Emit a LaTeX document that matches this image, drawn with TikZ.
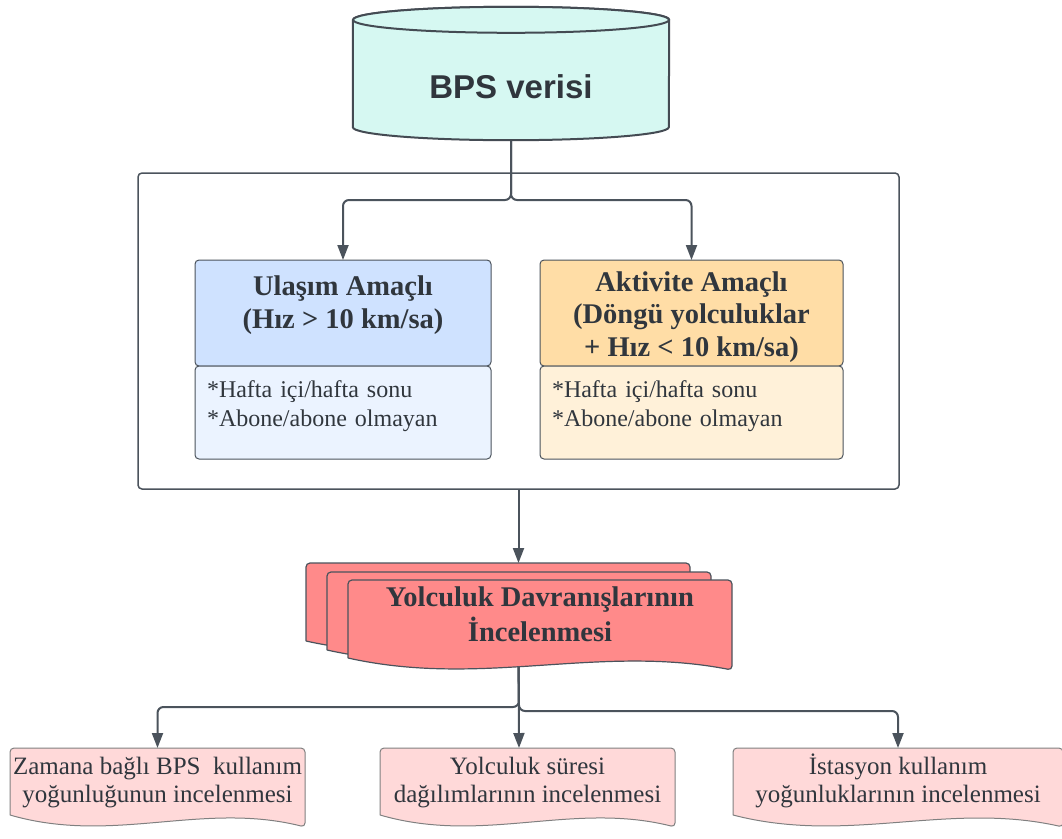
\documentclass[tikz,border=0pt]{standalone}
\usepackage{fontspec}
\setmainfont{Liberation Serif}
\setsansfont{Liberation Sans}
\usetikzlibrary{positioning,arrows.meta,calc}

\definecolor{wire}{HTML}{4B535C}
\definecolor{ink}{HTML}{30363D}
\definecolor{mint}{HTML}{D6F8F2}
\definecolor{bluetop}{HTML}{CFE2FF}
\definecolor{bluebot}{HTML}{EBF3FF}
\definecolor{orangetop}{HTML}{FFDDA6}
\definecolor{orangebot}{HTML}{FFF1D9}
\definecolor{salmon}{HTML}{FF8A8A}
\definecolor{pinklight}{HTML}{FFD9D9}

\pgfdeclarelayer{wires}
\pgfdeclarelayer{shapes}
\pgfsetlayers{wires,shapes,main}

% page outline with a wavy lower edge
\newcommand\docshape[2]{%
  \draw[#2] (#1.south west) -- (#1.north west) -- (#1.north east)
    -- ([yshift=-12pt]#1.south east)
    .. controls ($(#1.south east)!0.35!(#1.south west)+(0,14)$)
    and ($(#1.south west)!0.35!(#1.south east)+(0,-30)$) .. (#1.south west);}

\begin{document}
\begin{tikzpicture}[x=1pt,y=1pt,
  link/.style={draw=wire,line width=2pt,rounded corners=6pt,-{Triangle[length=15pt,width=11pt]}},
  dbshape/.style={draw=wire!90!black,line width=2pt,fill=mint},
  titlebox/.style={draw=wire,line width=1pt,rounded corners=4pt,inner sep=0pt,outer sep=0pt,
    align=center,text=ink,font=\fontsize{28.5}{32.5}\selectfont\bfseries},
  detailbox/.style={draw=wire,line width=1pt,rounded corners=4pt,inner xsep=12pt,inner ysep=0pt,
    outer sep=0pt,align=left,text=ink,text height=31pt,text depth=62pt,
    font=\fontsize{24}{29}\selectfont},
  page/.style={inner sep=0pt,outer sep=0pt,minimum width=384pt,minimum height=78pt},
  pageline/.style={draw=wire,line width=1.2pt,fill=salmon,rounded corners=4pt},
  taskbox/.style={inner sep=0pt,outer sep=0pt,align=center,text=ink,
    text height=54pt,text depth=13pt,font=\fontsize{25}{28}\selectfont},
  taskline/.style={draw=gray,line width=1pt,fill=pinklight,rounded corners=4pt}]

\useasboundingbox (0,0) rectangle (1062,-838);

% data source
\node[inner sep=0pt,minimum width=316pt,minimum height=107pt,text=ink,
  font=\sffamily\bfseries\fontsize{33}{38}\selectfont] (data) at (511,-86.5) {BPS verisi};

% grouping frame and the two trip classes
\node[draw=wire,line width=1.5pt,rounded corners=4pt,inner sep=0pt,
  minimum width=761pt,minimum height=316pt] (frame) at (518.5,-331) {};
\node[titlebox,fill=bluetop,minimum width=296pt,text height=68pt,text depth=38pt]
  (ulasim) at (343,-313) {Ulaşım Amaçlı\\(Hız > 10 km/sa)};
\node[detailbox,fill=bluebot,text width=272pt,below=0pt of ulasim]
  (ulasimdet) {*Hafta içi/hafta sonu\\{}*Abone/abone olmayan};
\node[titlebox,fill=orangetop,minimum width=303pt,text height=96pt,text depth=10pt]
  (aktivite) at (691.5,-313) {Aktivite Amaçlı\\(Döngü yolculuklar\\+ Hız < 10 km/sa)};
\node[detailbox,fill=orangebot,text width=279pt,below=0pt of aktivite]
  (aktivitedet) {*Hafta içi/hafta sonu\\{}*Abone/abone olmayan};

% stacked result pages
\node[page] (backpage) at (498,-602) {};
\node[page] (midpage) at (519,-611) {};
\node[page,align=center,text=ink,text height=61pt,text depth=17pt,
  font=\fontsize{28.5}{35}\selectfont\bfseries]
  (study) at (540,-619) {Yolculuk Davranışlarının\\İncelenmesi};

% analyses
\node[taskbox,minimum width=295pt] (zaman) at (157.5,-781.5)
  {Zamana bağlı BPS\ \ kullanım\\yoğunluğunun incelenmesi};
\node[taskbox,minimum width=295pt] (sure) at (527.5,-781.5)
  {Yolculuk süresi\\dağılımlarının incelenmesi};
\node[taskbox,minimum width=330pt] (istasyon) at (898,-781.5)
  {İstasyon kullanım\\yoğunluklarının incelenmesi};

\begin{pgfonlayer}{shapes}
  \draw[dbshape] ([yshift=13pt]data.north west) -- ([yshift=13pt]data.south west)
    arc[start angle=180,end angle=360,x radius=158,y radius=13]
    -- ([yshift=13pt]data.north east)
    arc[start angle=0,end angle=180,x radius=158,y radius=13];
  \draw[dbshape] ([yshift=13pt]data.north) ellipse[x radius=158,y radius=13];
  \docshape{backpage}{pageline}
  \docshape{midpage}{pageline}
  \docshape{study}{pageline}
  \docshape{zaman}{taskline}
  \docshape{sure}{taskline}
  \docshape{istasyon}{taskline}
\end{pgfonlayer}

\coordinate (split) at (511,-200);
\coordinate (forkl) at (519,-707);
\coordinate (forkr) at (519,-711);

\begin{pgfonlayer}{wires}
  \draw[link] (data.south) -- (split) -| (ulasim.north);
  \draw[link] (data.south) -- (split) -| (aktivite.north);
  \draw[link] (frame.south) -- (frame.south |- backpage.north);
  \draw[link] (frame.south |- study.south) -- (forkl) -| (zaman.north);
  \draw[link] (frame.south |- study.south) -- (sure.north -| forkl);
  \draw[link] (frame.south |- study.south) -- (forkr) -| (istasyon.north);
\end{pgfonlayer}
\end{tikzpicture}
\end{document}
